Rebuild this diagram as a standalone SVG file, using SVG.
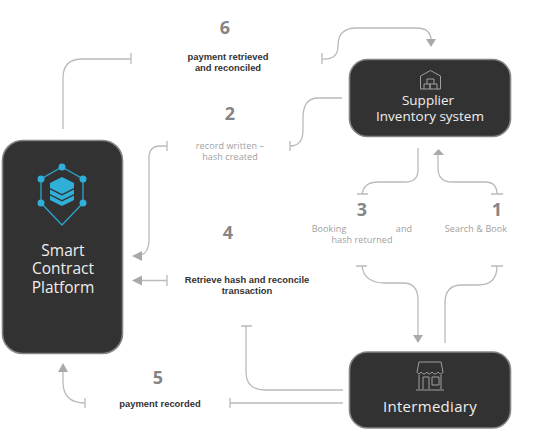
<svg xmlns="http://www.w3.org/2000/svg" width="544" height="433" viewBox="0 0 544 433">
<style>
.box{fill:#333232;stroke:#858585;stroke-width:1.6}
.c{fill:none;stroke:#bababa;stroke-width:1.3}
.h{fill:#a9a9a9;stroke:none}
text{font-family:"Open Sans","Liberation Sans",sans-serif;text-anchor:middle}
.n{font-size:18px;font-weight:700;fill:#858585}
.b{font-family:"Liberation Sans",Arial,sans-serif;font-size:9.400px;font-weight:700;fill:#333}
.g{font-size:9px;letter-spacing:.1px;fill:#a0a0a0}
.w{font-size:15.500px;fill:#eee}
.cy{fill:none;stroke:#2aa6cc;stroke-width:1.3}
.d{fill:#2fb0d8}
.ic{fill:none;stroke:#a0a0a0;stroke-width:1}
</style>
<rect width="544" height="433" fill="#fff"/>
<g id="connectors">
<path class="c" d="M63 129V78Q63 59 82 59H131M131 53V64"/>
<path class="c" d="M322 59Q338 60 338 46Q338 28 356 28H416Q431 28 431 40M322 53V64"/>
<path class="h" d="M426 39H436L431 47Z"/>
<path class="c" d="M342 98H318Q303 98 303 118V130Q303 146 290 146M290 141V151"/>
<path class="c" d="M167 146H160Q149 146 149 158V240Q149 254 138 256M167 141V151"/>
<path class="h" d="M132 256L142 251V261Z"/>
<path class="c" d="M140 280.500H167M167 275V286"/>
<path class="h" d="M132 280.500L142 275.500V285.500Z"/>
<path class="c" d="M246 326V372Q246 390 265 390H343M241 326H252"/>
<path class="c" d="M343 403H230M230 398V408"/>
<path class="c" d="M85 403Q63 403 63 382V371M85 398V408"/>
<path class="h" d="M63 363L68 372H58Z"/>
<path class="c" d="M418 148V170Q418 182 405 182H378Q364 182 362 194M357 194H368"/>
<path class="c" d="M438 154V168Q438 182 452 182H485Q497 182 497 194M491 194H503"/>
<path class="h" d="M438.500 149L444 155H433Z"/>
<path class="c" d="M362 266Q364 283 385 283H403Q418 283 418 300V336M356 266H367"/>
<path class="h" d="M413 335H423L418 343Z"/>
<path class="c" d="M497 266Q497 285 478 285H462Q445 285 445 303V343M491 266H503"/>
</g>
<g id="smart-contract-platform">
<rect class="box" x="2.500" y="140.500" width="120" height="213" rx="20"/>
<path class="cy" d="M62 167L83 179V203L62 225L41 203V179Z"/>
<circle class="d" cx="62" cy="167" r="3.500"/><circle class="d" cx="83" cy="179" r="3.500"/><circle class="d" cx="83" cy="203" r="3.500"/><circle class="d" cx="41" cy="203" r="3.500"/><circle class="d" cx="41" cy="179" r="3.500"/>
<path class="d" d="M62 177L74 183V188L62 194L50 188V183Z"/>
<path class="d" d="M50 189.500L62 195.500L74 189.500V194L62 200L50 194Z"/>
<path class="d" d="M50 195.500L62 201.500L74 195.500V200L62 206L50 200Z"/>
<text class="w" x="63" y="256">Smart</text>
<text class="w" x="63" y="274">Contract</text>
<text class="w" x="63" y="293">Platform</text>
</g>
<g id="supplier-inventory-system">
<rect class="box" x="349.500" y="59.500" width="161" height="77" rx="18"/>
<path class="ic" d="M420.500 89V76L430.500 70.500L440.500 76V89ZM424 89V84H430V89M430 89V84H437V89M427 84V79H434V84"/>
<text class="w" style="font-size:13.500px" x="428" y="105">Supplier</text>
<text class="w" style="font-size:13.500px" x="430" y="121">Inventory system</text>
</g>
<g id="intermediary">
<rect class="box" x="349.500" y="352" width="161" height="76" rx="18"/>
<path class="ic" d="M419 362H441L443 372Q441 376 438 372Q435 376 432 372Q429 376 427 372Q424 376 421 372Q419 376 417 372ZM419 375V389M441 375V389M416 390H444M423 389V377H429V389M432 377H439V385H432Z"/>
<text class="w" style="font-size:15px;letter-spacing:.3px" x="430" y="412">Intermediary</text>
</g>
<g id="labels">
<text class="n" x="225" y="34">6</text>
<text class="b" x="228" y="60">payment retrieved</text>
<text class="b" x="228" y="71">and reconciled</text>
<text class="n" x="230" y="120">2</text>
<text class="g" x="230" y="149">record written –</text>
<text class="g" x="230" y="160">hash created</text>
<text class="n" x="228" y="239">4</text>
<text class="b" x="247" y="283">Retrieve hash and reconcile</text>
<text class="b" x="247" y="294">transaction</text>
<text class="n" x="158" y="384">5</text>
<text class="b" x="160" y="407">payment recorded</text>
<text class="n" x="362" y="216">3</text>
<text class="g" x="329" y="232">Booking</text>
<text class="g" x="404" y="232">and</text>
<text class="g" x="362" y="243">hash returned</text>
<text class="n" x="497" y="216">1</text>
<text class="g" x="476" y="232">Search &amp; Book</text>
</g>
</svg>
